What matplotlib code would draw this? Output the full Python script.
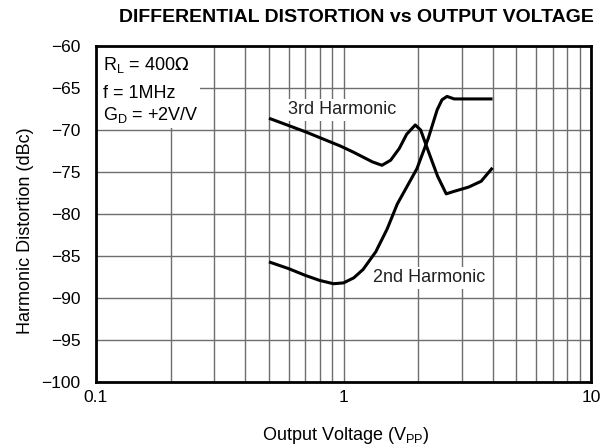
import matplotlib
matplotlib.use("Agg")
import matplotlib.pyplot as plt
from matplotlib.ticker import FixedLocator, NullFormatter

plt.rcParams['font.family'] = ['Liberation Sans', 'DejaVu Sans']

# Output voltage (Vpp) and harmonic distortion (dBc)
v_h2 = [0.5, 0.6, 0.7, 0.8, 0.91, 1.0, 1.1, 1.2, 1.35, 1.5, 1.65, 1.8, 1.98, 2.2, 2.39, 2.5, 2.62, 2.8, 3.2, 4.0]
d_h2 = [-85.7, -86.5, -87.3, -87.9, -88.3, -88.2, -87.6, -86.6, -84.5, -81.8, -78.8, -76.8, -74.6, -71.0, -67.6, -66.4, -66.0, -66.3, -66.3, -66.3]

v_h3 = [0.5, 0.7, 0.97, 1.09, 1.31, 1.43, 1.55, 1.68, 1.8, 1.95, 2.05, 2.2, 2.4, 2.6, 2.8, 3.2, 3.6, 4.0]
d_h3 = [-68.6, -70.2, -71.9, -72.6, -73.8, -74.2, -73.6, -72.2, -70.5, -69.4, -70.0, -72.5, -75.5, -77.6, -77.3, -76.8, -76.1, -74.5]

x_ticks = [0.1, 1, 10]
x_labels = ["0.1", "1", "10"]
y_ticks = [-100, -95, -90, -85, -80, -75, -70, -65, -60]
y_labels = ["\u2212100", "\u221295", "\u221290", "\u221285", "\u221280", "\u221275", "\u221270", "\u221265", "\u221260"]

fig = plt.figure(figsize=(6, 4.48), dpi=100)
ax = fig.add_axes([0.16, 0.1473, 0.825, 0.75])

ax.set_xscale('log')
ax.set_xlim(0.1, 10)
ax.set_ylim(-100, -60)

minor = [m * d for d in (0.1, 1) for m in range(2, 10)]
ax.xaxis.set_major_locator(FixedLocator(x_ticks))
ax.xaxis.set_minor_locator(FixedLocator(minor))
ax.xaxis.set_minor_formatter(NullFormatter())
ax.set_xticks(x_ticks)
ax.set_xticklabels(x_labels)
ax.set_yticks(y_ticks)
ax.set_yticklabels(y_labels)
ax.tick_params(which='both', length=0, labelsize=12.5)
ax.tick_params(axis='x', pad=6)
ax.tick_params(axis='y', pad=11)

ax.grid(True, which='major', color='#6e6e6e', linewidth=1.0)
ax.grid(True, which='minor', axis='x', color='#6e6e6e', linewidth=1.0)
ax.set_axisbelow(True)
for s in ax.spines.values():
    s.set_linewidth(2.0)
    s.set_color('black')

ax.plot(v_h2, d_h2, color='black', linewidth=2.2, solid_capstyle='butt')
ax.plot(v_h3, d_h3, color='black', linewidth=2.2, solid_capstyle='butt')

box = dict(facecolor='white', edgecolor='none', pad=2)
ax.text(0.597, -67.6, "3rd Harmonic", fontsize=13, ha='left', va='center', color='#222222', bbox=box, zorder=3)
ax.text(1.315, -87.6, "2nd Harmonic", fontsize=13, ha='left', va='center', color='#222222', bbox=box, zorder=3)

# conditions block in the upper-left corner
ax.add_patch(plt.Rectangle((0, 0.756), 0.21, 0.244, transform=ax.transAxes,
                           facecolor='white', edgecolor='none', zorder=2))
ax.text(0.014, 0.929, r"R$_\mathregular{L}$ = 400$\Omega$", transform=ax.transAxes,
        fontsize=13, va='baseline', ha='left', zorder=3)
ax.text(0.014, 0.845, "f = 1MHz", transform=ax.transAxes,
        fontsize=13, va='baseline', ha='left', zorder=3)
ax.text(0.014, 0.78, r"G$_\mathregular{D}$ = +2V/V", transform=ax.transAxes,
        fontsize=13, va='baseline', ha='left', zorder=3)

fig.text(0.577, 0.027, r"Output Voltage (V$_\mathregular{PP}$)", fontsize=13,
         ha='center', va='center')
fig.text(0.042, 0.484, "Harmonic Distortion (dBc)", fontsize=13,
         ha='center', va='center', rotation=90)
fig.text(0.594, 0.962, "DIFFERENTIAL DISTORTION vs OUTPUT VOLTAGE", fontsize=14,
         fontweight='bold', ha='center', va='center')

fig.savefig("out.png", dpi=100)
